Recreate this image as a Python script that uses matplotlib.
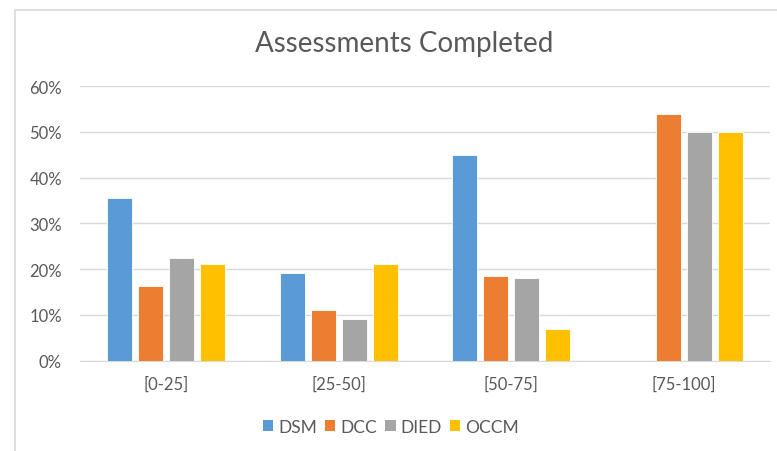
import numpy as np
import matplotlib.pyplot as plt
from matplotlib.patches import Rectangle, Patch
from matplotlib.ticker import PercentFormatter

categorias = ['[0-25]', '[25-50]', '[50-75]', '[75-100]']
series = ['DSM', 'DCC', 'DIED', 'OCCM']
dsm = [35.5, 19.2, 45.0, 0.0]
dcc = [16.4, 11.0, 18.4, 53.9]
died = [22.5, 9.0, 18.1, 50.0]
occm = [21.2, 21.2, 6.9, 50.0]
cores = ['#5B9BD5', '#ED7D31', '#A5A5A5', '#FFC000']

plt.rcParams['font.family'] = ['Lato', 'DejaVu Sans']

fig = plt.figure(figsize=(7.77, 4.52), dpi=100)
ax = fig.add_axes([80 / 777, 1 - 361.7 / 452, 690 / 777, (361.7 - 87) / 452])

# moldura do gráfico (estilo Excel)
fig.patches.append(Rectangle((15 / 777, -0.1), 1.0, (452 - 11) / 452 + 0.1,
                             transform=fig.transFigure, fill=False,
                             edgecolor='#D9D9D9', linewidth=1.2))

x = np.arange(len(categorias))
passo = 0.18
largura = 0.145
for i, (nome, valores) in enumerate(zip(series, [dsm, dcc, died, occm])):
    ax.bar(x + (i - 1.5) * passo, valores, width=largura, color=cores[i],
           edgecolor='white', linewidth=0.6, label=nome, zorder=3)

ax.set_xlim(-0.5, len(categorias) - 0.5)
ax.set_ylim(0, 60)
ax.set_yticks(range(0, 61, 10))
ax.yaxis.set_major_formatter(PercentFormatter(decimals=0))
ax.set_xticks(x)
ax.set_xticklabels(categorias)
ax.grid(axis='y', color='#D9D9D9', linewidth=1.0, zorder=0)
for lado in ['top', 'right', 'left']:
    ax.spines[lado].set_visible(False)
ax.spines['bottom'].set_color('#D9D9D9')
ax.tick_params(axis='both', length=0, colors='#595959', labelsize=12)
ax.tick_params(axis='y', pad=13)
ax.tick_params(axis='x', pad=11)

fig.text(404 / 777, 1 - 44 / 452, 'Assessments Completed', ha='center',
         va='center', fontsize=20, color='#595959')

handles = [Patch(facecolor=c, label=s) for c, s in zip(cores, series)]
fig.legend(handles=handles, loc='center', bbox_to_anchor=(391 / 777, 1 - 428 / 452),
           ncol=4, frameon=False, fontsize=12.5, labelcolor='#595959',
           handlelength=0.6, handleheight=0.6, handletextpad=0.3,
           columnspacing=0.45)

fig.savefig('out.png', dpi=100)
